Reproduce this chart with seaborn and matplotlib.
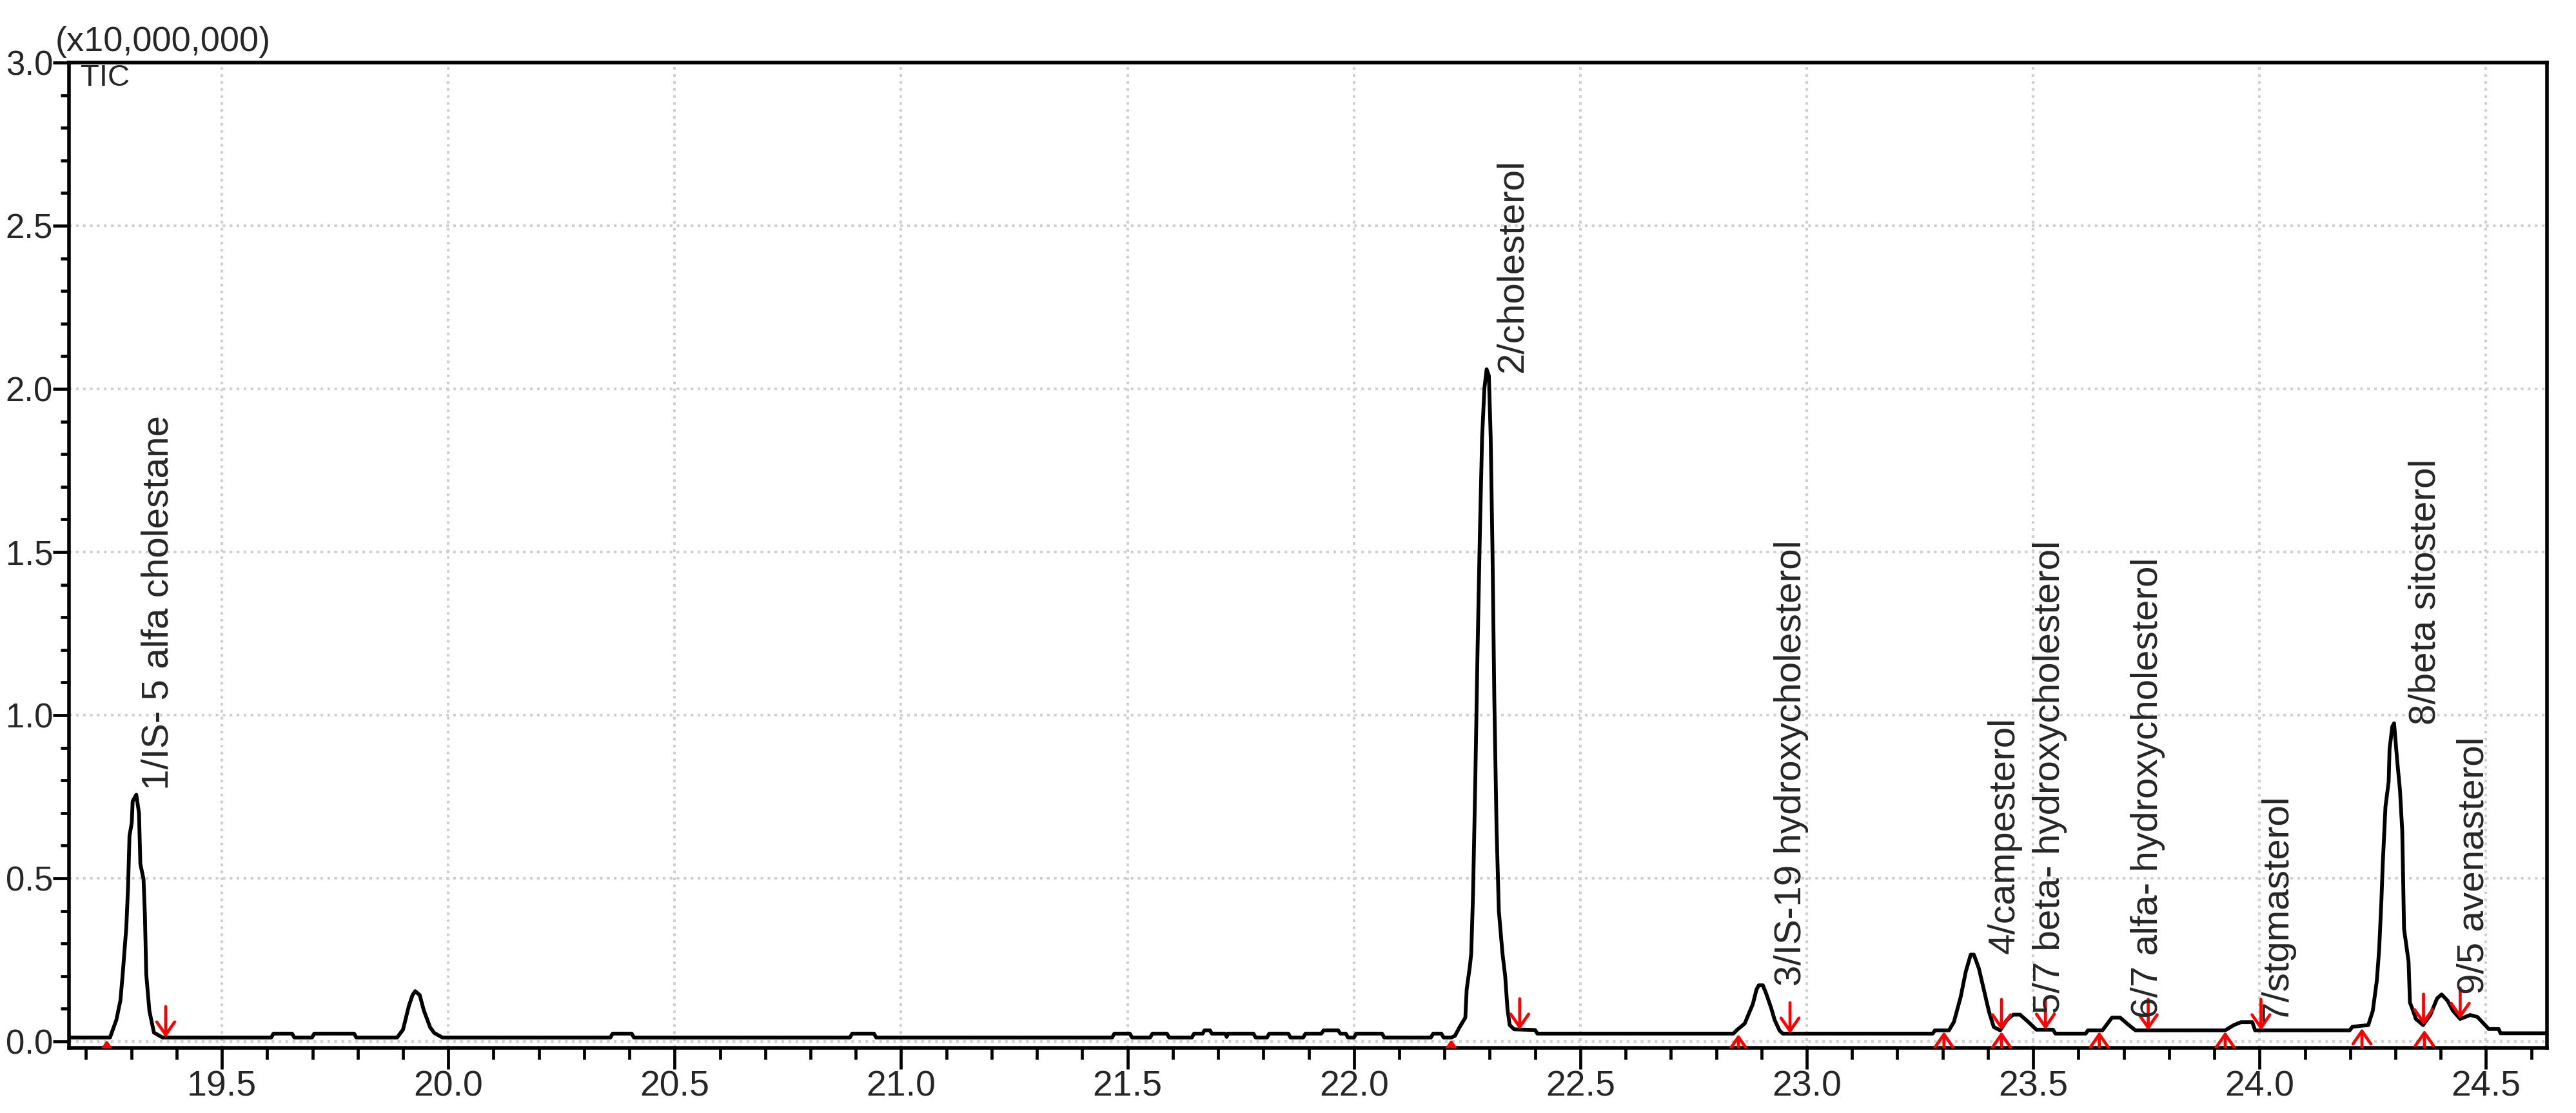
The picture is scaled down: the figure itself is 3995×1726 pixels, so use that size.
import pandas as pd
import seaborn as sns
import matplotlib.pyplot as plt
from matplotlib.ticker import MultipleLocator, FormatStrFormatter

# TIC trace: retention time (min) and intensity (x10,000,000)
time_min = [19.162, 19.253, 19.267, 19.276, 19.281, 19.289, 19.293, 19.296, 19.301, 19.303,
            19.311, 19.317, 19.320, 19.327, 19.330, 19.333, 19.340, 19.346, 19.350, 19.369,
            19.609, 19.614, 19.655, 19.660, 19.699, 19.704, 19.792, 19.797,
            19.887, 19.900, 19.913, 19.921, 19.927, 19.937, 19.946, 19.960, 19.969, 19.987,
            20.358, 20.363, 20.405, 20.410, 20.887, 20.892, 20.940, 20.945,
            21.466, 21.471, 21.505, 21.510, 21.550, 21.555, 21.587, 21.592,
            21.642, 21.647, 21.666, 21.670, 21.682, 21.686, 21.716, 21.719, 21.722, 21.778, 21.783,
            21.808, 21.813, 21.855, 21.860, 21.888, 21.893, 21.928, 21.933, 21.965, 21.970,
            21.982, 21.987, 22.000, 22.005, 22.062, 22.067, 22.170, 22.175, 22.193, 22.198,
            22.215, 22.223, 22.233, 22.246, 22.249, 22.256, 22.259, 22.263, 22.268, 22.273,
            22.278, 22.283, 22.288, 22.293, 22.298, 22.302, 22.306, 22.310, 22.315, 22.320,
            22.328, 22.334, 22.339, 22.344, 22.354, 22.400, 22.405,
            22.838, 22.845, 22.863, 22.881, 22.889, 22.894, 22.903, 22.910, 22.921, 22.929,
            22.940, 22.947, 23.278, 23.283, 23.314, 23.325, 23.340, 23.351, 23.362, 23.369,
            23.380, 23.391, 23.402, 23.413, 23.427, 23.442, 23.456, 23.471, 23.489, 23.507,
            23.544, 23.549, 23.616, 23.621, 23.653, 23.674, 23.692, 23.707, 23.722, 23.726,
            23.924, 23.943, 23.959, 23.984, 23.990, 24.199, 24.205, 24.240, 24.250, 24.259,
            24.264, 24.269, 24.272, 24.278, 24.285, 24.287, 24.293, 24.297, 24.304, 24.310,
            24.315, 24.319, 24.329, 24.332, 24.339, 24.345, 24.361, 24.377, 24.392, 24.402,
            24.415, 24.427, 24.443, 24.465, 24.481, 24.494, 24.506, 24.528, 24.532, 24.635]
tic = [0.012, 0.012, 0.066, 0.126, 0.206, 0.350, 0.480, 0.630, 0.670, 0.736,
       0.756, 0.700, 0.544, 0.497, 0.390, 0.206, 0.093, 0.053, 0.027, 0.012,
       0.012, 0.024, 0.024, 0.012, 0.012, 0.024, 0.024, 0.012,
       0.012, 0.036, 0.109, 0.142, 0.154, 0.142, 0.095, 0.043, 0.026, 0.012,
       0.012, 0.024, 0.024, 0.012, 0.012, 0.024, 0.024, 0.012,
       0.012, 0.024, 0.024, 0.012, 0.012, 0.024, 0.024, 0.012,
       0.012, 0.024, 0.024, 0.034, 0.034, 0.024, 0.024, 0.014, 0.024, 0.024, 0.012,
       0.012, 0.024, 0.024, 0.012, 0.012, 0.024, 0.024, 0.034, 0.034, 0.024,
       0.024, 0.012, 0.012, 0.024, 0.024, 0.012, 0.012, 0.024, 0.024, 0.012,
       0.012, 0.017, 0.043, 0.073, 0.160, 0.230, 0.270, 0.450, 0.800, 1.200,
       1.550, 1.850, 2.000, 2.060, 2.040, 1.850, 1.500, 1.050, 0.650, 0.400,
       0.270, 0.200, 0.100, 0.050, 0.037, 0.035, 0.024,
       0.024, 0.034, 0.055, 0.115, 0.159, 0.172, 0.172, 0.148, 0.104, 0.066,
       0.033, 0.024, 0.024, 0.034, 0.034, 0.060, 0.137, 0.213, 0.266, 0.266,
       0.224, 0.159, 0.093, 0.044, 0.034, 0.066, 0.082, 0.082, 0.060, 0.036,
       0.036, 0.024, 0.024, 0.034, 0.034, 0.073, 0.073, 0.055, 0.038, 0.034,
       0.034, 0.050, 0.059, 0.059, 0.034, 0.034, 0.045, 0.050, 0.094, 0.188,
       0.282, 0.432, 0.545, 0.720, 0.796, 0.896, 0.965, 0.975, 0.858, 0.770,
       0.645, 0.345, 0.244, 0.119, 0.094, 0.069, 0.050, 0.081, 0.132, 0.144,
       0.125, 0.094, 0.069, 0.081, 0.075, 0.056, 0.038, 0.038, 0.025, 0.025]

# integration marks: peak start (up arrows) and peak end (down arrows)
start_t = [19.246, 22.215, 22.849, 23.303, 23.430, 23.646, 23.924, 24.226, 24.364]
start_y = [0.004, 0.006, 0.022, 0.030, 0.030, 0.030, 0.030, 0.040, 0.035]
end_t = [19.376, 22.366, 22.963, 23.430, 23.527, 23.754, 24.003, 24.362, 24.443]
end_y = [0.012, 0.036, 0.024, 0.034, 0.036, 0.034, 0.034, 0.050, 0.069]

# peak labels
peak_names = ["1/IS- 5 alfa cholestane", "2/cholesterol", "3/IS-19 hydroxycholesterol",
              "4/campesterol", "5/7 beta- hydroxycholesterol", "6/7 alfa- hydroxycholesterol",
              "7/stgmasterol", "8/beta sitosterol", "9/5 avenasterol"]
label_t = [19.360, 22.350, 22.966, 23.436, 23.537, 23.753, 24.039, 24.366, 24.473]
label_y = [0.77, 2.05, 0.17, 0.268, 0.085, 0.072, 0.063, 0.971, 0.144]

sns.set_theme(style="white")
plt.rcParams["font.family"] = ["Liberation Sans Narrow", "Liberation Sans", "DejaVu Sans"]

fig = plt.figure(figsize=(39.95, 17.26), dpi=100)
ax = fig.add_axes([0.0268, 0.0585, 0.962, 0.8853])

df = pd.DataFrame({"time": time_min, "tic": tic})
sns.lineplot(data=df, x="time", y="tic", color="black", linewidth=4.2,
             estimator=None, sort=False, ax=ax)

ax.set_xlim(19.1625, 24.635)
ax.set_ylim(-0.0198, 3.0)
ax.set_xlabel("")
ax.set_ylabel("")

# ticks
ax.xaxis.set_major_locator(MultipleLocator(0.5))
ax.xaxis.set_minor_locator(MultipleLocator(0.1))
ax.yaxis.set_major_locator(MultipleLocator(0.5))
ax.yaxis.set_minor_locator(MultipleLocator(0.1))
ax.xaxis.set_major_formatter(FormatStrFormatter("%.1f"))
ax.yaxis.set_major_formatter(FormatStrFormatter("%.1f"))
ax.tick_params(axis="x", which="major", bottom=True, direction="out", length=24, width=3.4,
               color="black", labelsize=40, pad=1)
ax.tick_params(axis="x", which="minor", bottom=True, direction="out", length=13, width=3.4,
               color="black")
ax.tick_params(axis="y", which="major", left=True, direction="out", length=18, width=3.4,
               color="black", labelsize=38, pad=0)
ax.tick_params(axis="y", which="minor", left=True, direction="out", length=9.5, width=3.4,
               color="black")

ax.grid(True, which="major", color="#d0d0d0", linestyle=(0, (1, 1.6)), linewidth=3.0)
ax.set_axisbelow(True)
for s in ax.spines.values():
    s.set_color("black")
    s.set_linewidth(4.0)

# peak start / end arrows
arrow_props = dict(arrowstyle="->,head_length=0.72,head_width=0.5", color="red",
                   lw=3.4, shrinkA=0, shrinkB=0, mutation_scale=20)
for t, y in zip(start_t, start_y):
    a = ax.annotate("", xy=(t, y), xytext=(0, -60), textcoords="offset pixels",
                    arrowprops=arrow_props)
    a.arrow_patch.set_clip_path(ax.patch)
for t, y in zip(end_t, end_y):
    ax.annotate("", xy=(t, y), xytext=(0, 48), textcoords="offset pixels",
                arrowprops=arrow_props)

for name, t, y in zip(peak_names, label_t, label_y):
    ax.text(t, y, name, rotation=90, ha="center", va="bottom", fontsize=42,
            family=["Liberation Sans", "DejaVu Sans"])

ax.text(-0.0057, 1.0046, "(x10,000,000)", transform=ax.transAxes, fontsize=39,
        ha="left", va="bottom")
ax.text(0.0047, 0.999, "TIC", transform=ax.transAxes, fontsize=34, ha="left", va="top")

fig.savefig("out.png", dpi=100)
